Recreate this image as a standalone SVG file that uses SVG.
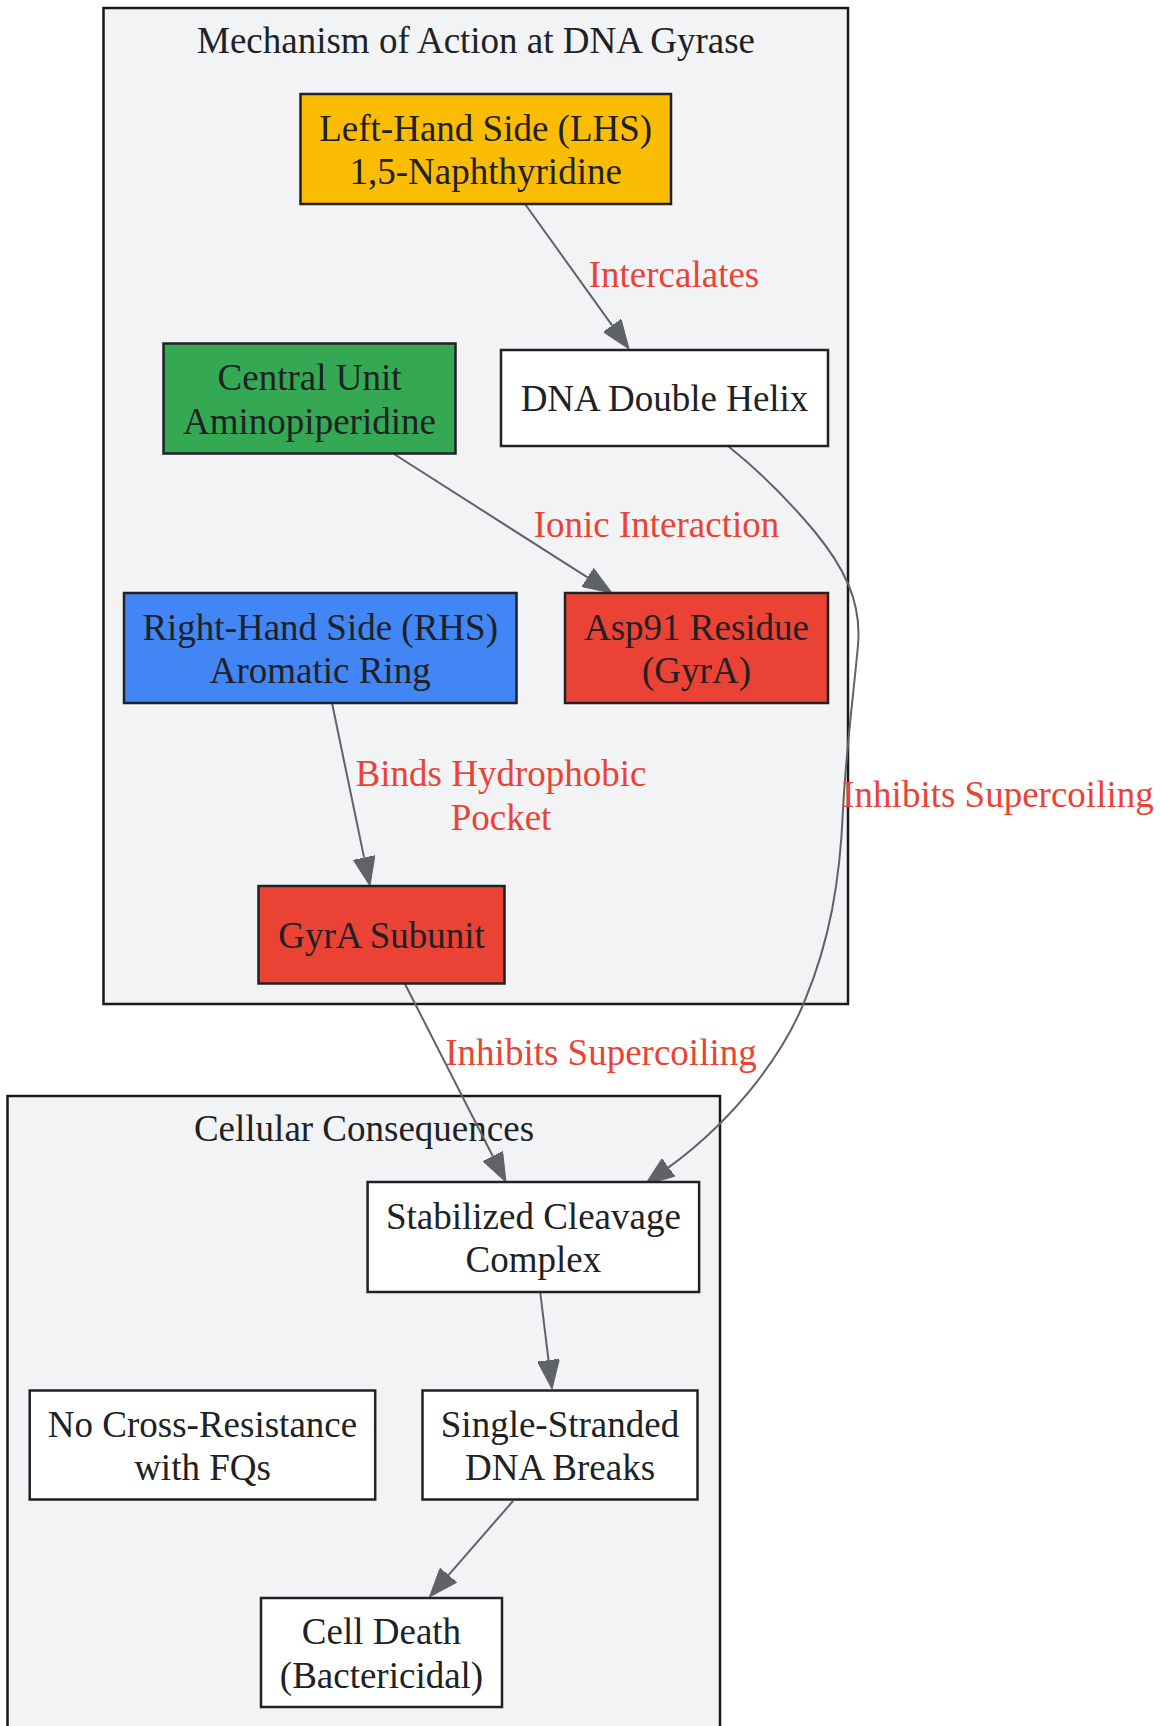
<svg xmlns="http://www.w3.org/2000/svg" width="1160" height="1726" viewBox="0 0 1160 1726">
<style>
text{font-family:"Liberation Serif","Times New Roman",serif;font-size:37px;fill:#202124;text-anchor:middle}
.cl{fill:#F1F3F4;stroke:#1a1a1a;stroke-width:2.5}
.n{stroke:#202124;stroke-width:2.5}
.w{fill:#FFFFFF}.y{fill:#FBBC04}.g{fill:#34A853}.b{fill:#4285F4}.r{fill:#EA4335}
.e{fill:none;stroke:#5F6368;stroke-width:2;marker-end:url(#ah)}
.lb{fill:#EA4335}
</style>
<defs>
<marker id="ah" viewBox="0 0 29 22" refX="0" refY="11" markerWidth="29" markerHeight="22" markerUnits="userSpaceOnUse" orient="auto">
<path d="M0,0 L29,11 L0,22 z" fill="#5F6368" stroke="#5F6368" stroke-width="1"/>
</marker>
</defs>
<rect width="1160" height="1726" fill="#FFFFFF"/>
<g id="cluster_moa">
<rect class="cl" x="103.5" y="8" width="744.5" height="996"/>
<text x="476" y="53">Mechanism of Action at DNA Gyrase</text>
</g>
<g id="cluster_cell">
<rect class="cl" x="7.5" y="1096" width="712.5" height="660"/>
<text x="364" y="1141">Cellular Consequences</text>
</g>
<g id="edges">
<path class="e" d="M525,204 L612.1,325.4"/>
<path class="e" d="M394,454 L587.5,577.4"/>
<path class="e" d="M332,703 L364.1,857.6"/>
<path class="e" d="M405,984 L492.8,1156.2"/>
<path class="e" d="M728,446 C758,470 790,502 815,532 C842,565 862,600 858,645 C854,690 846,750 843,810 C840,880 830,940 805,1000 C785,1050 740,1115 668.6,1167.4"/>
<path class="e" d="M540.3,1293 L548.5,1360.2"/>
<path class="e" d="M513,1501 L448.5,1575.1"/>
<text class="lb" x="674" y="287">Intercalates</text>
<text class="lb" x="656.5" y="537">Ionic Interaction</text>
<text class="lb" x="501" y="786">Binds Hydrophobic</text>
<text class="lb" x="501" y="829.6">Pocket</text>
<text class="lb" x="998" y="807">Inhibits Supercoiling</text>
<text class="lb" x="601" y="1065">Inhibits Supercoiling</text>
</g>
<g id="lhs">
<rect class="n y" x="300.5" y="94" width="370.5" height="110"/>
<text x="485.7" y="140.7">Left-Hand Side (LHS)</text>
<text x="485.7" y="184.3">1,5-Naphthyridine</text>
</g>
<g id="central">
<rect class="n g" x="163.5" y="343.5" width="292" height="110"/>
<text x="309.5" y="390">Central Unit</text>
<text x="309.5" y="433.6">Aminopiperidine</text>
</g>
<g id="dna">
<rect class="n w" x="501" y="350" width="327" height="96"/>
<text x="664.5" y="411.3">DNA Double Helix</text>
</g>
<g id="rhs">
<rect class="n b" x="124" y="593" width="392.5" height="110"/>
<text x="320.2" y="639.5">Right-Hand Side (RHS)</text>
<text x="320.2" y="683.1">Aromatic Ring</text>
</g>
<g id="asp91">
<rect class="n r" x="565" y="593" width="263" height="110"/>
<text x="696.5" y="639.5">Asp91 Residue</text>
<text x="696.5" y="683.1">(GyrA)</text>
</g>
<g id="gyra">
<rect class="n r" x="258.5" y="886" width="246" height="97.5"/>
<text x="381.5" y="948.3">GyrA Subunit</text>
</g>
<g id="stabilized">
<rect class="n w" x="367.6" y="1182" width="331.5" height="110"/>
<text x="533.4" y="1228.5">Stabilized Cleavage</text>
<text x="533.4" y="1272.1">Complex</text>
</g>
<g id="nocross">
<rect class="n w" x="29.7" y="1390.5" width="345.5" height="109"/>
<text x="202.5" y="1436.5">No Cross-Resistance</text>
<text x="202.5" y="1480.1">with FQs</text>
</g>
<g id="ssbreaks">
<rect class="n w" x="422.5" y="1390.5" width="275" height="109"/>
<text x="560" y="1436.5">Single-Stranded</text>
<text x="560" y="1480.1">DNA Breaks</text>
</g>
<g id="celldeath">
<rect class="n w" x="261" y="1598" width="241" height="109"/>
<text x="381.5" y="1644">Cell Death</text>
<text x="381.5" y="1687.6">(Bactericidal)</text>
</g>
</svg>
